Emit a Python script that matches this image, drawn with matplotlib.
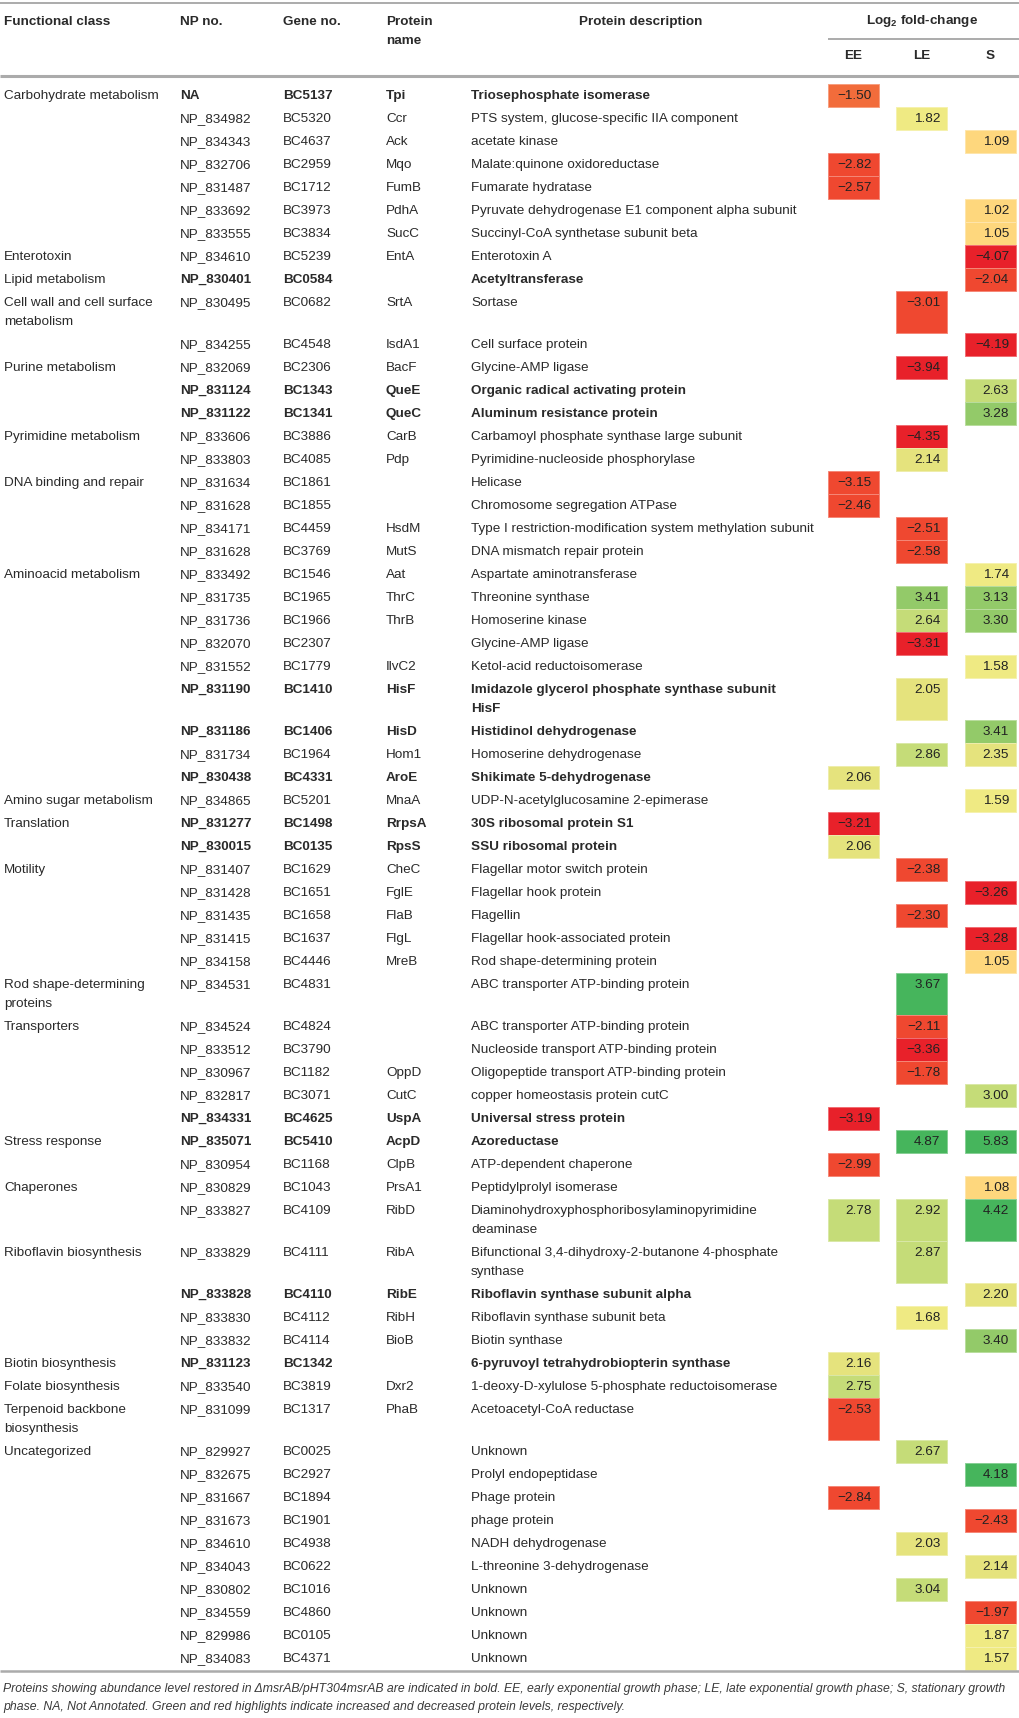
import matplotlib
matplotlib.use("Agg")
import matplotlib.pyplot as plt
from matplotlib.colors import ListedColormap, BoundaryNorm
from matplotlib.patches import Rectangle
import numpy as np

plt.rcParams['font.family'] = ['Liberation Sans', 'DejaVu Sans']
plt.rcParams['mathtext.fontset'] = 'custom'
plt.rcParams['mathtext.rm'] = 'Liberation Sans'
plt.rcParams['mathtext.bf'] = 'Liberation Sans:bold'
plt.rcParams['mathtext.default'] = 'bf'

N = None

func_class = [
    "Carbohydrate metabolism", "", "", "", "", "", "", "Enterotoxin",
    "Lipid metabolism", "Cell wall and cell surface\nmetabolism", "", "Purine metabolism", "", "", "Pyrimidine metabolism", "",
    "DNA binding and repair", "", "", "", "Aminoacid metabolism", "", "", "",
    "", "", "", "", "", "Amino sugar metabolism", "Translation", "",
    "Motility", "", "", "", "", "Rod shape-determining\nproteins", "Transporters", "",
    "", "", "", "Stress response", "", "Chaperones", "", "Riboflavin biosynthesis",
    "", "", "", "Biotin biosynthesis", "Folate biosynthesis", "Terpenoid backbone\nbiosynthesis", "Uncategorized", "",
    "", "", "", "", "", "", "", "",
]

np_no = [
    "NA", "NP_834982", "NP_834343", "NP_832706", "NP_831487", "NP_833692", "NP_833555", "NP_834610",
    "NP_830401", "NP_830495", "NP_834255", "NP_832069", "NP_831124", "NP_831122", "NP_833606", "NP_833803",
    "NP_831634", "NP_831628", "NP_834171", "NP_831628", "NP_833492", "NP_831735", "NP_831736", "NP_832070",
    "NP_831552", "NP_831190", "NP_831186", "NP_831734", "NP_830438", "NP_834865", "NP_831277", "NP_830015",
    "NP_831407", "NP_831428", "NP_831435", "NP_831415", "NP_834158", "NP_834531", "NP_834524", "NP_833512",
    "NP_830967", "NP_832817", "NP_834331", "NP_835071", "NP_830954", "NP_830829", "NP_833827", "NP_833829",
    "NP_833828", "NP_833830", "NP_833832", "NP_831123", "NP_833540", "NP_831099", "NP_829927", "NP_832675",
    "NP_831667", "NP_831673", "NP_834610", "NP_834043", "NP_830802", "NP_834559", "NP_829986", "NP_834083",
]

gene_no = [
    "BC5137", "BC5320", "BC4637", "BC2959", "BC1712", "BC3973", "BC3834", "BC5239",
    "BC0584", "BC0682", "BC4548", "BC2306", "BC1343", "BC1341", "BC3886", "BC4085",
    "BC1861", "BC1855", "BC4459", "BC3769", "BC1546", "BC1965", "BC1966", "BC2307",
    "BC1779", "BC1410", "BC1406", "BC1964", "BC4331", "BC5201", "BC1498", "BC0135",
    "BC1629", "BC1651", "BC1658", "BC1637", "BC4446", "BC4831", "BC4824", "BC3790",
    "BC1182", "BC3071", "BC4625", "BC5410", "BC1168", "BC1043", "BC4109", "BC4111",
    "BC4110", "BC4112", "BC4114", "BC1342", "BC3819", "BC1317", "BC0025", "BC2927",
    "BC1894", "BC1901", "BC4938", "BC0622", "BC1016", "BC4860", "BC0105", "BC4371",
]

prot_name = [
    "Tpi", "Ccr", "Ack", "Mqo", "FumB", "PdhA", "SucC", "EntA",
    "", "SrtA", "IsdA1", "BacF", "QueE", "QueC", "CarB", "Pdp",
    "", "", "HsdM", "MutS", "Aat", "ThrC", "ThrB", "",
    "IlvC2", "HisF", "HisD", "Hom1", "AroE", "MnaA", "RrpsA", "RpsS",
    "CheC", "FglE", "FlaB", "FlgL", "MreB", "", "", "",
    "OppD", "CutC", "UspA", "AcpD", "ClpB", "PrsA1", "RibD", "RibA",
    "RibE", "RibH", "BioB", "", "Dxr2", "PhaB", "", "",
    "", "", "", "", "", "", "", "",
]

prot_desc = [
    "Triosephosphate isomerase", "PTS system, glucose-specific IIA component", "acetate kinase",
    "Malate:quinone oxidoreductase", "Fumarate hydratase", "Pyruvate dehydrogenase E1 component alpha subunit",
    "Succinyl-CoA synthetase subunit beta", "Enterotoxin A",
    "Acetyltransferase", "Sortase", "Cell surface protein", "Glycine-AMP ligase",
    "Organic radical activating protein", "Aluminum resistance protein",
    "Carbamoyl phosphate synthase large subunit", "Pyrimidine-nucleoside phosphorylase",
    "Helicase", "Chromosome segregation ATPase", "Type I restriction-modification system methylation subunit",
    "DNA mismatch repair protein", "Aspartate aminotransferase", "Threonine synthase", "Homoserine kinase",
    "Glycine-AMP ligase",
    "Ketol-acid reductoisomerase", "Imidazole glycerol phosphate synthase subunit\nHisF",
    "Histidinol dehydrogenase", "Homoserine dehydrogenase", "Shikimate 5-dehydrogenase",
    "UDP-N-acetylglucosamine 2-epimerase", "30S ribosomal protein S1", "SSU ribosomal protein",
    "Flagellar motor switch protein", "Flagellar hook protein", "Flagellin", "Flagellar hook-associated protein",
    "Rod shape-determining protein", "ABC transporter ATP-binding protein", "ABC transporter ATP-binding protein",
    "Nucleoside transport ATP-binding protein",
    "Oligopeptide transport ATP-binding protein", "copper homeostasis protein cutC", "Universal stress protein",
    "Azoreductase", "ATP-dependent chaperone", "Peptidylprolyl isomerase",
    "Diaminohydroxyphosphoribosylaminopyrimidine\ndeaminase",
    "Bifunctional 3,4-dihydroxy-2-butanone 4-phosphate\nsynthase",
    "Riboflavin synthase subunit alpha", "Riboflavin synthase subunit beta", "Biotin synthase",
    "6-pyruvoyl tetrahydrobiopterin synthase", "1-deoxy-D-xylulose 5-phosphate reductoisomerase",
    "Acetoacetyl-CoA reductase", "Unknown", "Prolyl endopeptidase",
    "Phage protein", "phage protein", "NADH dehydrogenase", "L-threonine 3-dehydrogenase",
    "Unknown", "Unknown", "Unknown", "Unknown",
]

bold_rows = [1, 9, 13, 14, 26, 27, 29, 31, 32, 43, 44, 49, 52]  # 1-based

ee_vals = [
    -1.50, N, N, -2.82, -2.57, N, N, N,
    N, N, N, N, N, N, N, N,
    -3.15, -2.46, N, N, N, N, N, N,
    N, N, N, N, 2.06, N, -3.21, 2.06,
    N, N, N, N, N, N, N, N,
    N, N, -3.19, N, -2.99, N, 2.78, N,
    N, N, N, 2.16, 2.75, -2.53, N, N,
    -2.84, N, N, N, N, N, N, N,
]
le_vals = [
    N, 1.82, N, N, N, N, N, N,
    N, -3.01, N, -3.94, N, N, -4.35, 2.14,
    N, N, -2.51, -2.58, N, 3.41, 2.64, -3.31,
    N, 2.05, N, 2.86, N, N, N, N,
    -2.38, N, -2.30, N, N, 3.67, -2.11, -3.36,
    -1.78, N, N, 4.87, N, N, 2.92, 2.87,
    N, 1.68, N, N, N, N, 2.67, N,
    N, N, 2.03, N, 3.04, N, N, N,
]
s_vals = [
    N, N, 1.09, N, N, 1.02, 1.05, -4.07,
    -2.04, N, -4.19, N, 2.63, 3.28, N, N,
    N, N, N, N, 1.74, 3.13, 3.30, N,
    1.58, N, 3.41, 2.35, N, 1.59, N, N,
    N, -3.26, N, -3.28, 1.05, N, N, N,
    N, 3.00, N, 5.83, N, 1.08, 4.42, N,
    2.20, N, 3.40, N, N, N, N, 4.18,
    N, -2.43, N, 2.14, N, -1.97, 1.87, 1.57,
]

phases = ["EE", "LE", "S"]
col_headers = ["Functional class", "NP no.", "Gene no.", "Protein\nname", "Protein description"]
footnote = ["Proteins showing abundance level restored in \u0394msrAB/pHT304msrAB are indicated in bold. EE, early exponential growth phase; LE, late exponential growth phase; S, stationary growth",
            "phase. NA, Not Annotated. Green and red highlights indicate increased and decreased protein levels, respectively."]

# colour scale (red = decreased, green = increased)
bounds = [-5, -3.17, -1.6, 0, 1.3, 2.0, 2.5, 3.08, 3.5, 6.5]
cols = ["#e8212a", "#ef4830", "#f26c3b", "#fed77d", "#efea83", "#e5e37d", "#c5dc78", "#93ca69", "#46b55c"]
cmap = ListedColormap(cols)
norm = BoundaryNorm(bounds, cmap.N)

W, H = 1019, 1718
fig = plt.figure(figsize=(W / 100, H / 100), dpi=100)
ax = fig.add_axes([0, 0, 1, 1])
ax.set_xlim(0, W)
ax.set_ylim(H, 0)
ax.axis("off")

FS = 9.7
TXT = "#2a2a2a"
LINE = "#ababab"
col_x = [4, 180, 283, 386, 471]
cell_x0 = 828
cell_w = 51
cell_pitch = 68.5
row_h = 23
line_h = 19

# header
ax.plot([0, W], [3, 3], color=LINE, lw=1.4, solid_capstyle="butt")
for i, h in enumerate(col_headers):
    lines = h.split("\n")
    for j, ln in enumerate(lines):
        if i == 4:
            ax.text(641, 22 + j * line_h, ln, ha="center", va="center", fontsize=FS, fontweight="bold", color=TXT)
        else:
            ax.text(col_x[i], 22 + j * line_h, ln, ha="left", va="center", fontsize=FS, fontweight="bold", color=TXT)
ax.text(cell_x0 + (2 * cell_pitch + cell_w) / 2, 21, r"Log$_2$ fold-change", ha="center", va="center",
        fontsize=FS, fontweight="bold", color=TXT)
ax.plot([cell_x0, W], [39, 39], color=LINE, lw=1.4, solid_capstyle="butt")
for k, p in enumerate(phases):
    ax.text(cell_x0 + k * cell_pitch + cell_w / 2, 56, p, ha="center", va="center", fontsize=FS,
            fontweight="bold", color=TXT)
ax.plot([0, W], [76, 76], color=LINE, lw=2.2, solid_capstyle="butt")

# body
y = 84
vals_all = [ee_vals, le_vals, s_vals]
for r in range(len(np_no)):
    fields = [func_class[r], np_no[r], gene_no[r], prot_name[r], prot_desc[r]]
    nlines = max(len(f.split("\n")) for f in fields)
    h = row_h + line_h * (nlines - 1)
    bold = (r + 1) in bold_rows
    for k in range(3):
        v = vals_all[k][r]
        if v is None:
            continue
        c = np.array(cmap(norm(v))[:3])
        edge = c + (1 - c) * 0.35
        ax.add_patch(Rectangle((cell_x0 + k * cell_pitch, y), cell_w, h, facecolor=c, edgecolor=edge, lw=0.7))
        ax.text(cell_x0 + k * cell_pitch + cell_w - 7, y + row_h / 2 + 0.5, f"{v:.2f}".replace("-", "\u2212"),
                ha="right", va="center", fontsize=FS, color="#222222")
    for i, f in enumerate(fields):
        wt = "bold" if (bold and i > 0) else "normal"
        for j, ln in enumerate(f.split("\n")):
            ax.text(col_x[i], y + row_h / 2 + 0.5 + j * line_h, ln, ha="left", va="center", fontsize=FS,
                    fontweight=wt, color=TXT)
    y += h

ax.plot([0, W], [y + 1, y + 1], color=LINE, lw=1.8, solid_capstyle="butt")
for j, ln in enumerate(footnote):
    ax.text(3, y + 19 + j * 18, ln, ha="left", va="center", fontsize=8.8, style="italic", color="#3a3a3a")

fig.savefig("out.png", dpi=100)
